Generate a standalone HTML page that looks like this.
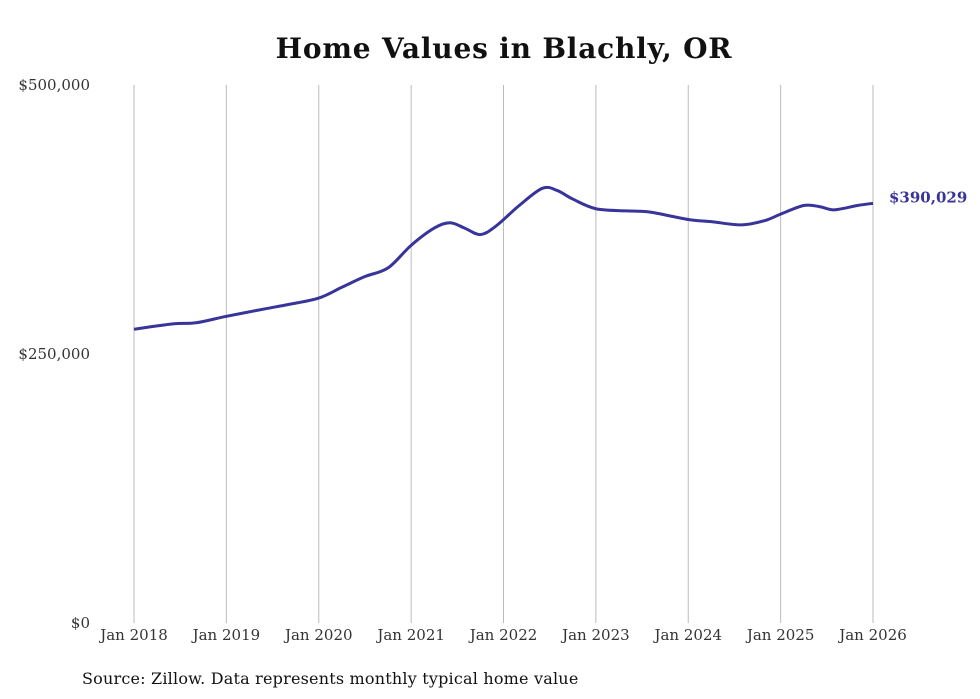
<!DOCTYPE html>
<html><head><meta charset="utf-8"><style>
html,body{margin:0;padding:0;background:#fff;}
svg{display:block;font-family:"DejaVu Serif","Liberation Serif",serif;}
</style></head><body>
<svg id="chart" width="980" height="699" viewBox="0 0 980 699">
<text x="504" y="58" text-anchor="middle" font-size="28" font-weight="bold" letter-spacing="0.8" fill="#111">Home Values in Blachly, OR</text>
<g id="grid"></g><g id="yt"></g><g id="xt"></g><g id="series"></g>
<text x="82" y="684" font-size="16" letter-spacing="0.2" fill="#111">Source: Zillow. Data represents monthly typical home value</text>
</svg>
<script>
const xYears=[2018,2019,2020,2021,2022,2023,2024,2025,2026];
const yTicks=[0,250000,500000];
const yLabels=["$0","$250,000","$500,000"];
const dates=[2018.0,2018.42,2018.67,2019.0,2019.42,2019.67,2020.0,2020.25,2020.5,2020.75,2021.0,2021.25,2021.42,2021.58,2021.75,2021.92,2022.17,2022.42,2022.58,2022.75,2023.0,2023.33,2023.58,2024.0,2024.25,2024.58,2024.83,2025.0,2025.25,2025.42,2025.58,2025.83,2026.0];
const values=[273000,278000,279000,285000,292000,296000,302000,312000,322000,330000,351000,367000,372000,367000,361000,369000,388000,404000,402000,394000,385000,383000,382000,375000,373000,370000,374000,380000,388000,387000,384000,388000,390029];
const lastLabel="$390,029";
const X=v=>134+(v-2018)*(873-134)/8;
const Y=v=>623-v*(623-85)/500000;
const NS="http://www.w3.org/2000/svg";
function mk(t,a,p){const e=document.createElementNS(NS,t);for(const k in a)e.setAttribute(k,a[k]);p.appendChild(e);return e;}
const g=document.getElementById('grid'),yt=document.getElementById('yt'),xt=document.getElementById('xt'),s=document.getElementById('series');
xYears.forEach(y=>{
 const l=mk('line',{x1:X(y),x2:X(y),y1:85,y2:623,stroke:'#bbb','stroke-width':1},g);
 
 
 const t=mk('text',{x:X(y),y:640,'text-anchor':'middle','font-size':15,fill:'#333'},xt);
 t.textContent='Jan '+y;
 
 
});
yTicks.forEach((v,i)=>{
 const t=mk('text',{x:90,y:Y(v)+5,'text-anchor':'end','font-size':15,fill:'#333'},yt);
 t.textContent=yLabels[i];
 
 
});
const pts=dates.map((d,i)=>[X(d),Y(values[i])]);
let dstr='M'+pts[0][0]+','+pts[0][1];
for(let i=0;i<pts.length-1;i++){
 const p0=pts[Math.max(i-1,0)],p1=pts[i],p2=pts[i+1],p3=pts[Math.min(i+2,pts.length-1)];
 const c1=[p1[0]+(p2[0]-p0[0])/6,p1[1]+(p2[1]-p0[1])/6];
 const c2=[p2[0]-(p3[0]-p1[0])/6,p2[1]-(p3[1]-p1[1])/6];
 dstr+=' C'+c1[0]+','+c1[1]+' '+c2[0]+','+c2[1]+' '+p2[0]+','+p2[1];
}
const path=mk('path',{d:dstr,fill:'none',stroke:'#38349a','stroke-width':3,'stroke-linejoin':'round'},s);


const lab=mk('text',{x:X(dates[dates.length-1])+16,y:Y(values[values.length-1])-1,'font-size':15,'font-weight':'bold',fill:'#38349a'},s);
lab.textContent=lastLabel;


</script>
</body></html>
